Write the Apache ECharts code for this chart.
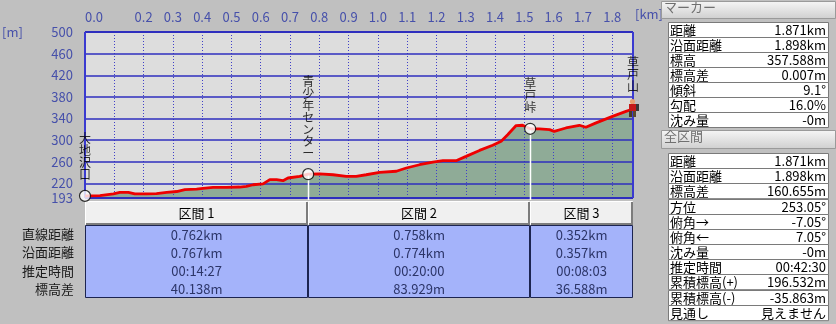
<!DOCTYPE html>
<html><head><meta charset="utf-8">
<script src="https://cdn.jsdelivr.net/npm/echarts@6/dist/echarts.min.js"></script>
<style>html,body{margin:0;padding:0;background:#c0c0c0;}#c{width:836px;height:324px;}</style>
</head><body><div id="c"></div>
<script>
// ---- data ----
const profileDist = [0, 0.051, 0.097, 0.119, 0.148, 0.170, 0.210, 0.244, 0.279, 0.313, 0.341, 0.381, 0.403, 0.437, 0.483, 0.528, 0.551, 0.574, 0.608, 0.631, 0.654, 0.676, 0.693, 0.733, 0.762, 0.801, 0.847, 0.892, 0.926, 0.960, 1.006, 1.063, 1.097, 1.142, 1.188, 1.222, 1.267, 1.301, 1.347, 1.392, 1.421, 1.443, 1.472, 1.494, 1.520, 1.551, 1.586, 1.602, 1.642, 1.688, 1.710, 1.745, 1.801, 1.847, 1.871];
const profileElev = [196.9, 197.5, 200.5, 203.5, 203.5, 200.5, 200.5, 201.0, 203.5, 205.0, 208.5, 209.5, 210.8, 212.5, 212.5, 213.3, 214.5, 217.5, 219.0, 227.0, 227.0, 225.0, 230.0, 233.0, 237.1, 237.5, 236.0, 233.0, 233.0, 236.0, 240.5, 242.5, 248.5, 254.5, 259.5, 262.0, 262.0, 270.0, 281.0, 290.5, 298.0, 310.0, 327.0, 327.5, 321.0, 320.8, 319.5, 316.3, 322.5, 327.5, 323.8, 332.0, 344.0, 353.3, 357.6];

const markerNames = ['大地沢口', '青少年センター', '草戸峠', '草戸山'];
const markerDist = [0, 0.762, 1.520, 1.871];
const markerElev = [196.933, 237.071, 321.0, 357.588];

const xLabelValues = [0.0, 0.2, 0.3, 0.4, 0.5, 0.6, 0.7, 0.8, 0.9, 1.0, 1.1, 1.2, 1.3, 1.4, 1.5, 1.6, 1.7, 1.8];
const xGridValues = [0.1, 0.2, 0.3, 0.4, 0.5, 0.6, 0.7, 0.8, 0.9, 1.0, 1.1, 1.2, 1.3, 1.4, 1.5, 1.6, 1.7, 1.8];
const yLabelValues = [193, 220, 260, 300, 340, 380, 420, 460, 500];
const xMin = 0, xMax = 1.871, yMin = 193, yMax = 500;

const sectionNames = ['区間 1', '区間 2', '区間 3'];
const sectionStart = [0, 0.762, 1.520];
const sectionEnd = [0.762, 1.520, 1.871];
const rowLabels = ['直線距離', '沿面距離', '推定時間', '標高差'];
const straightDist = ['0.762km', '0.758km', '0.352km'];
const surfaceDist = ['0.767km', '0.774km', '0.357km'];
const estTime = ['00:14:27', '00:20:00', '00:08:03'];
const elevDiff = ['40.138m', '83.929m', '36.588m'];

const markerPanelLabels = ['距離', '沿面距離', '標高', '標高差', '傾斜', '勾配', '沈み量'];
const markerPanelValues = ['1.871km', '1.898km', '357.588m', '0.007m', '9.1°', '16.0%', '-0m'];
const totalPanelLabels = ['距離', '沿面距離', '標高差', '方位', '俯角→', '俯角←', '沈み量', '推定時間', '累積標高(+)', '累積標高(-)', '見通し'];
const totalPanelValues = ['1.871km', '1.898km', '160.655m', '253.05°', '-7.05°', '7.05°', '-0m', '00:42:30', '196.532m', '-35.863m', '見えません'];

// ---- build ----
const FONT = '"Noto Sans CJK JP", "Noto Sans", sans-serif';
const BLUE_TXT = '#4650aa';
const profile = profileDist.map((d, i) => [d, profileElev[i]]);
const tableRows = [straightDist, surfaceDist, estTime, elevDiff];
const cellData = [], cellText = [];
tableRows.forEach((row, r) => row.forEach((t, c) => { cellData.push([sectionStart[c], sectionEnd[c], r]); cellText.push(t); }));
const sectionData = sectionStart.map((s, i) => [s, sectionEnd[i], 0]);

function panelRender(labels, values) {
  return function (params, api) {
    const cs = params.coordSys;
    const idx = api.value(1);
    const cy = api.coord([0, idx])[1];
    const h = api.size([0, 1])[1];
    const y0 = Math.round(cy - h / 2) + 0.5;
    return { type: 'group', children: [
      { type: 'rect', shape: { x: cs.x + 0.5, y: y0, width: cs.width, height: h }, style: { fill: '#ffffff', stroke: '#7a7a7a', lineWidth: 1 } },
      { type: 'text', style: { text: labels[params.dataIndex], x: cs.x + 2, y: cy + 0.5, align: 'left', verticalAlign: 'middle', fill: '#000', font: '13px ' + FONT } },
      { type: 'text', style: { text: values[params.dataIndex], x: cs.x + cs.width - 2, y: cy + 0.5, align: 'right', verticalAlign: 'middle', fill: '#000', font: '13px ' + FONT } }
    ] };
  };
}

const chart = echarts.init(document.getElementById('c'), null, { renderer: 'canvas' });
const hidden = { show: false };
chart.setOption({
  animation: false,
  backgroundColor: '#c0c0c0',
  textStyle: { fontFamily: FONT },
  grid: [
    { left: 85, top: 32, width: 548, height: 166, show: true, backgroundColor: '#dddddd', borderWidth: 0 },
    { left: 85, top: 201, width: 548, height: 24 },
    { left: 85, top: 225, width: 548, height: 73 },
    { left: 668, top: 22, width: 160, height: 105 },
    { left: 668, top: 153, width: 160, height: 167 }
  ],
  xAxis: [
    { gridIndex: 0, type: 'value', position: 'top', min: xMin, max: xMax, interval: 0.1,
      axisLine: hidden, axisTick: hidden, splitLine: hidden,
      axisLabel: { color: BLUE_TXT, fontSize: 13, fontFamily: FONT, margin: 8, alignMinLabel: 'left', showMaxLabel: false,
        padding: [0, 0, 0, 0],
        formatter: v => xLabelValues.some(t => Math.abs(t - v) < 1e-6) ? v.toFixed(1) : '' } },
    { gridIndex: 1, type: 'value', min: xMin, max: xMax, show: false },
    { gridIndex: 2, type: 'value', min: xMin, max: xMax, show: false },
    { gridIndex: 3, type: 'value', min: 0, max: 1, show: false },
    { gridIndex: 4, type: 'value', min: 0, max: 1, show: false }
  ],
  yAxis: [
    { gridIndex: 0, type: 'value', min: yMin, max: yMax, axisLine: hidden, axisTick: hidden, splitLine: hidden,
      axisLabel: { customValues: yLabelValues, color: BLUE_TXT, fontSize: 13, fontFamily: FONT, margin: 12 } },
    { gridIndex: 1, type: 'category', data: ['区間'], show: false },
    { gridIndex: 2, type: 'category', data: rowLabels, inverse: true, axisLine: hidden, axisTick: hidden, splitLine: hidden,
      axisLabel: { color: '#1a1a1a', fontSize: 13, fontFamily: FONT, margin: 11 } },
    { gridIndex: 3, type: 'category', data: markerPanelLabels, inverse: true, show: false },
    { gridIndex: 4, type: 'category', data: totalPanelLabels, inverse: true, show: false }
  ],
  graphic: [
    { type: 'text', left: 2, top: 26, style: { text: '[m]', fill: BLUE_TXT, font: '13px ' + FONT } },
    { type: 'text', left: 635, top: 8, style: { text: '[km]', fill: BLUE_TXT, font: '13px ' + FONT } },
    { type: 'rect', left: 661, top: 1, shape: { width: 174, height: 17 },
      style: { fill: new echarts.graphic.LinearGradient(0, 0, 0, 1, [{ offset: 0, color: '#f6f6f6' }, { offset: 1, color: '#cfcfcf' }]), stroke: '#9a9a9a' } },
    { type: 'text', left: 664, top: 1, style: { text: 'マーカー', fill: '#707070', font: '13px ' + FONT } },
    { type: 'rect', left: 661, top: 130, shape: { width: 174, height: 18 },
      style: { fill: new echarts.graphic.LinearGradient(0, 0, 0, 1, [{ offset: 0, color: '#f6f6f6' }, { offset: 1, color: '#cfcfcf' }]), stroke: '#9a9a9a' } },
    { type: 'text', left: 664, top: 130, style: { text: '全区間', fill: '#707070', font: '13px ' + FONT } }
  ],
  series: [
    { type: 'line', xAxisIndex: 0, yAxisIndex: 0, data: profile, showSymbol: false, silent: true, z: 2,
      lineStyle: { width: 0 }, areaStyle: { color: '#8fab97', opacity: 1, origin: 'start' },
      markLine: { silent: true, symbol: 'none', animation: false, label: { show: false }, z: 5,
        data: [
          ...xGridValues.map(v => ({ xAxis: v, lineStyle: { color: '#4040c8', width: 1, type: [1, 2] } })),
          ...yLabelValues.map(v => ({ yAxis: v, lineStyle: { color: '#2e2ebe', width: (v === yMin || v === yMax) ? 2 : 1.5, type: 'solid' } })),
          { xAxis: xMin, lineStyle: { color: '#3a3ad0', width: 2, type: 'solid' } },
          { xAxis: xMax, lineStyle: { color: '#3a3ad0', width: 2, type: 'solid' } }
        ] } },
    { type: 'custom', xAxisIndex: 0, yAxisIndex: 0, z: 8, silent: true,
      data: markerDist.slice(1, 3).map((d, i) => [d, markerElev[i + 1]]),
      renderItem: (params, api) => {
        const top = api.coord([api.value(0), api.value(1)]);
        const bot = api.coord([api.value(0), yMin]);
        return { type: 'line', shape: { x1: Math.round(top[0]) + 0.5, y1: top[1], x2: Math.round(top[0]) + 0.5, y2: bot[1] + 2 }, style: { stroke: '#ffffff', lineWidth: 1.5 } };
      } },
    { type: 'line', xAxisIndex: 0, yAxisIndex: 0, data: profile, showSymbol: false, silent: true, z: 10,
      lineStyle: { color: '#ee0000', width: 2.8 } },
    { type: 'scatter', xAxisIndex: 0, yAxisIndex: 0, z: 12, silent: true,
      data: markerDist.map((d, i) => i < 3 ? { value: [d, markerElev[i]] } : { value: [d, markerElev[i]], symbolSize: 0, label: { distance: 17 } }),
      symbol: 'circle', symbolSize: 11,
      itemStyle: { color: '#ffffff', borderColor: '#000000', borderWidth: 1.2 },
      label: { show: true, position: 'top', distance: 9, color: '#000', fontSize: 12, lineHeight: 12, fontFamily: FONT,
        formatter: p => markerNames[p.dataIndex].split('').join('\n') } },
    { type: 'custom', xAxisIndex: 0, yAxisIndex: 0, z: 13, silent: true,
      data: [[markerDist[3], markerElev[3]]],
      renderItem: (params, api) => {
        const p = api.coord([api.value(0), api.value(1)]);
        const x = p[0], y = p[1];
        return { type: 'group', children: [
          { type: 'rect', shape: { x: x - 4, y: y + 1, width: 3, height: 7 }, style: { fill: '#4a3a28' } },
          { type: 'rect', shape: { x: x + 0, y: y + 1, width: 3, height: 7 }, style: { fill: '#5a4a30' } },
          { type: 'rect', shape: { x: x + 2, y: y - 5, width: 4, height: 7 }, style: { fill: '#3a3a3a' } },
          { type: 'rect', shape: { x: x - 4, y: y - 5, width: 7, height: 7 }, style: { fill: '#c41a1a' } },
          { type: 'circle', shape: { cx: x - 0.5, cy: y - 7.5, r: 2.6 }, style: { fill: '#e8a070' } }
        ] };
      } },
    { type: 'custom', xAxisIndex: 1, yAxisIndex: 1, silent: true, data: sectionData, encode: { x: [0, 1], y: 2 },
      renderItem: (params, api) => {
        const cs = params.coordSys;
        const x0 = Math.round(api.coord([api.value(0), 0])[0]);
        const x1 = Math.round(api.coord([api.value(1), 0])[0]);
        const y0 = cs.y, h = cs.height;
        return { type: 'group', children: [
          { type: 'rect', shape: { x: x0, y: y0, width: x1 - x0, height: h }, style: { fill: '#f0f0f0' } },
          { type: 'polyline', shape: { points: [[x0 + 0.5, y0 + h - 1], [x0 + 0.5, y0 + 0.5], [x1 - 1, y0 + 0.5]] }, style: { stroke: '#ffffff', fill: null, lineWidth: 1 } },
          { type: 'polyline', shape: { points: [[x0 + 1, y0 + h - 1], [x1 - 1, y0 + h - 1], [x1 - 1, y0 + 1]] }, style: { stroke: '#7c7c7c', fill: null, lineWidth: 2 } },
          { type: 'text', style: { text: sectionNames[params.dataIndex], x: (x0 + x1) / 2, y: y0 + h / 2 + 0.5, align: 'center', verticalAlign: 'middle', fill: '#000', font: '13px ' + FONT } }
        ] };
      } },
    { type: 'custom', xAxisIndex: 2, yAxisIndex: 2, silent: true, z: 2, data: sectionData, encode: { x: [0, 1], y: 2 },
      renderItem: (params, api) => {
        const cs = params.coordSys;
        const x0 = Math.round(api.coord([api.value(0), 0])[0]) + 0.5;
        const x1 = Math.round(api.coord([api.value(1), 0])[0]) - 0.5;
        return { type: 'rect', shape: { x: x0, y: cs.y + 0.5, width: x1 - x0, height: cs.height - 1 }, style: { fill: '#a4b3fa', stroke: '#1c2450', lineWidth: 1 } };
      } },
    { type: 'custom', xAxisIndex: 2, yAxisIndex: 2, silent: true, z: 3, data: cellData, encode: { x: [0, 1], y: 2 },
      renderItem: (params, api) => {
        const a = api.coord([api.value(0), api.value(2)]);
        const b = api.coord([api.value(1), api.value(2)]);
        return { type: 'text', style: { text: cellText[params.dataIndex], x: (a[0] + b[0]) / 2, y: a[1] + 0.5, align: 'center', verticalAlign: 'middle', fill: '#2c3568', font: '13px ' + FONT } };
      } },
    { type: 'custom', xAxisIndex: 3, yAxisIndex: 3, silent: true, data: markerPanelLabels.map((l, i) => [0, i]),
      renderItem: panelRender(markerPanelLabels, markerPanelValues) },
    { type: 'custom', xAxisIndex: 4, yAxisIndex: 4, silent: true, data: totalPanelLabels.map((l, i) => [0, i]),
      renderItem: panelRender(totalPanelLabels, totalPanelValues) }
  ]
});
</script></body></html>
